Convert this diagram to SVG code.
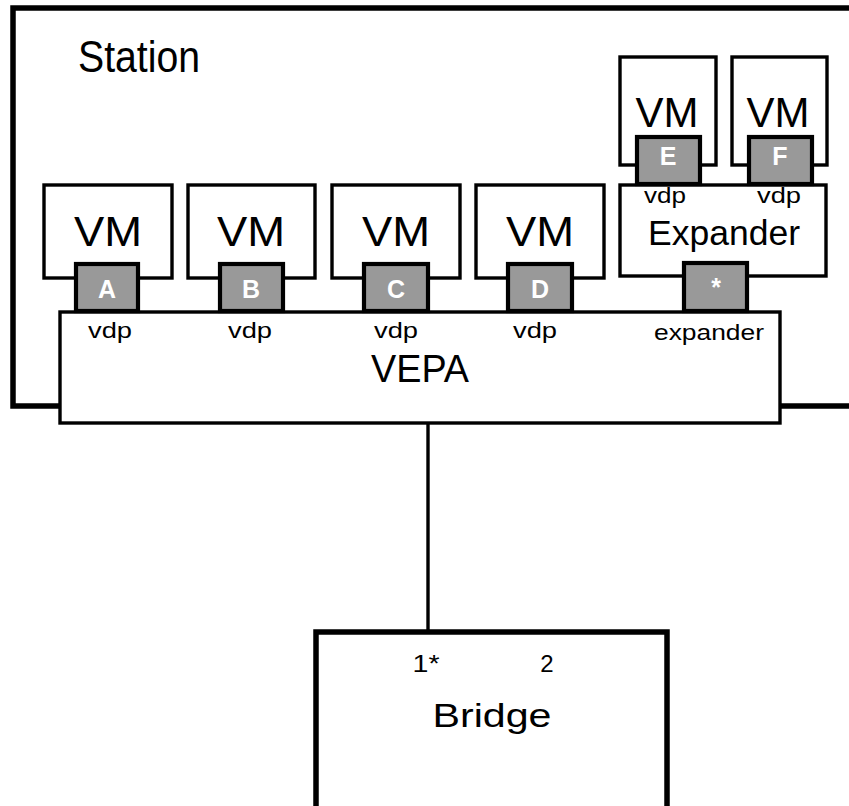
<svg xmlns="http://www.w3.org/2000/svg" width="849" height="806" viewBox="0 0 849 806">
<style>
.frame{fill:none;stroke:#000;stroke-width:5.5}
.box{fill:#fff;stroke:#000;stroke-width:3.4}
.port{fill:#999;stroke:#000;stroke-width:4.2}
.plbl{font-family:"Liberation Sans",Arial,sans-serif;font-weight:bold;font-size:25px;fill:#fff;text-anchor:middle}
.t{font-family:"Liberation Sans",Arial,sans-serif;fill:#000;text-anchor:middle}
.vm{font-size:43px}
.small{font-size:22px}
.conn{stroke:#000;stroke-width:3.4;fill:none}
</style>
<rect width="849" height="806" fill="#fff"/>
<g id="station">
<path class="frame" d="M860 8 H13 V406 H860"/>
<text class="t" x="78" y="72" font-size="45" text-anchor="start" textLength="122" lengthAdjust="spacingAndGlyphs" style="text-anchor:start">Station</text>
</g>
<g id="connectors">
<line class="conn" x1="428" y1="423" x2="428" y2="632"/>
</g>
<g id="vepa">
<rect class="box" x="60" y="312" width="720" height="111"/>
<text class="t" x="420" y="382" font-size="38" textLength="98" lengthAdjust="spacingAndGlyphs">VEPA</text>
<text class="t small" x="110" y="338" textLength="44" lengthAdjust="spacingAndGlyphs">vdp</text>
<text class="t small" x="250" y="338" textLength="44" lengthAdjust="spacingAndGlyphs">vdp</text>
<text class="t small" x="396" y="338" textLength="44" lengthAdjust="spacingAndGlyphs">vdp</text>
<text class="t small" x="535" y="338" textLength="44" lengthAdjust="spacingAndGlyphs">vdp</text>
<text class="t small" x="709" y="340" textLength="110" lengthAdjust="spacingAndGlyphs">expander</text>
</g>
<g id="vm-a">
<rect class="box" x="44" y="185" width="128" height="93"/>
<text class="t vm" x="108" y="246" textLength="68" lengthAdjust="spacingAndGlyphs">VM</text>
<rect class="port" x="76" y="264" width="62" height="47"/>
<text class="plbl" x="107" y="298">A</text>
</g>
<g id="vm-b">
<rect class="box" x="188" y="185" width="127" height="93"/>
<text class="t vm" x="251" y="246" textLength="68" lengthAdjust="spacingAndGlyphs">VM</text>
<rect class="port" x="220" y="264" width="63" height="47"/>
<text class="plbl" x="251" y="298">B</text>
</g>
<g id="vm-c">
<rect class="box" x="332" y="185" width="128" height="93"/>
<text class="t vm" x="396" y="246" textLength="68" lengthAdjust="spacingAndGlyphs">VM</text>
<rect class="port" x="364" y="264" width="64" height="47"/>
<text class="plbl" x="396" y="298">C</text>
</g>
<g id="vm-d">
<rect class="box" x="476" y="185" width="128" height="93"/>
<text class="t vm" x="540" y="246" textLength="68" lengthAdjust="spacingAndGlyphs">VM</text>
<rect class="port" x="508" y="264" width="64" height="47"/>
<text class="plbl" x="540" y="298">D</text>
</g>
<g id="expander">
<rect class="box" x="620" y="185" width="206" height="91"/>
<text class="t" x="724" y="245" font-size="35" textLength="152" lengthAdjust="spacingAndGlyphs">Expander</text>
<text class="t small" x="665" y="203" textLength="42" lengthAdjust="spacingAndGlyphs">vdp</text>
<text class="t small" x="779" y="203" textLength="44" lengthAdjust="spacingAndGlyphs">vdp</text>
<rect class="port" x="684" y="263" width="63" height="48"/>
<text class="plbl" x="716" y="296">*</text>
</g>
<g id="vm-e">
<rect class="box" x="620" y="57" width="96" height="108"/>
<text class="t vm" x="667" y="127" textLength="63" lengthAdjust="spacingAndGlyphs">VM</text>
<rect class="port" x="637" y="137" width="63" height="47"/>
<text class="plbl" x="668" y="165">E</text>
</g>
<g id="vm-f">
<rect class="box" x="732" y="57" width="95" height="108"/>
<text class="t vm" x="778" y="127" textLength="63" lengthAdjust="spacingAndGlyphs">VM</text>
<rect class="port" x="749" y="137" width="63" height="47"/>
<text class="plbl" x="780" y="165">F</text>
</g>
<g id="bridge">
<rect x="316" y="632" width="351" height="200" fill="#fff" stroke="#000" stroke-width="5.5"/>
<text class="t" x="426" y="672" font-size="24" textLength="27" lengthAdjust="spacingAndGlyphs">1*</text>
<text class="t" x="547" y="672" font-size="24">2</text>
<text class="t" x="492" y="727" font-size="34" textLength="119" lengthAdjust="spacingAndGlyphs">Bridge</text>
</g>
</svg>
